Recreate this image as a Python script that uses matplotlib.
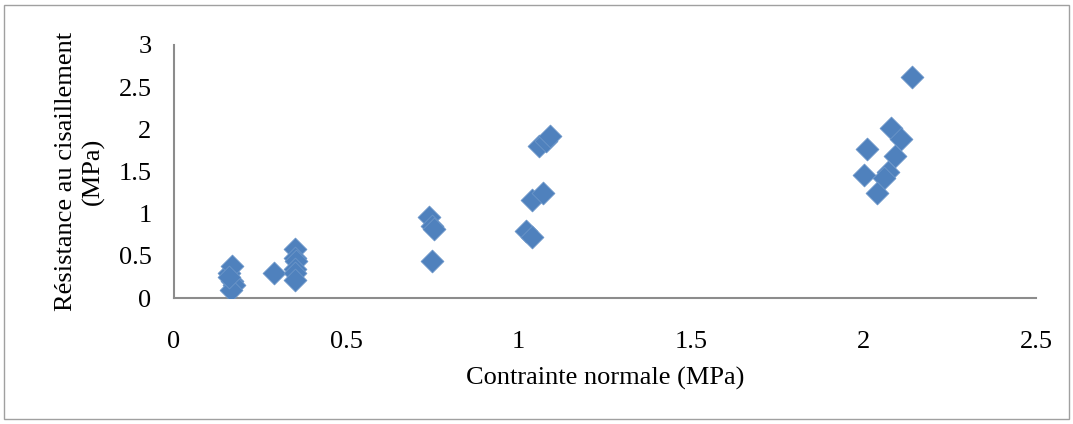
import matplotlib.pyplot as plt
from matplotlib.patches import Rectangle

# contrainte normale (MPa) / resistance au cisaillement (MPa)
normal_stress = [0.16, 0.17, 0.17, 0.175, 0.165, 0.16,
                 0.29, 0.35, 0.35, 0.355, 0.35, 0.35, 0.35,
                 0.74, 0.75, 0.755, 0.75,
                 1.02, 1.04, 1.04, 1.07, 1.06, 1.08, 1.09,
                 2.14, 2.08, 2.11, 2.01, 2.09, 2.0, 2.07, 2.06, 2.04]
shear_strength = [0.30, 0.38, 0.20, 0.16, 0.10, 0.25,
                  0.30, 0.58, 0.47, 0.44, 0.35, 0.30, 0.22,
                  0.96, 0.85, 0.82, 0.44,
                  0.79, 0.72, 1.16, 1.24, 1.80, 1.86, 1.92,
                  2.62, 2.02, 1.89, 1.77, 1.68, 1.46, 1.50, 1.42, 1.24]

x_ticks = [0, 0.5, 1, 1.5, 2, 2.5]
y_ticks = [0, 0.5, 1, 1.5, 2, 2.5, 3]

plt.rcParams['font.family'] = ['Liberation Serif', 'DejaVu Serif']
fs = 19

fig = plt.figure(figsize=(10.73, 4.24), dpi=100)
ax = fig.add_axes([0.162, 0.297, 0.8035, 0.597])

ax.scatter(normal_stress, shear_strength, marker='D', s=135, color='#4F81BD',
           edgecolors='#6B95C8', linewidths=0.6, zorder=3)

ax.set_xlim(0, 2.5)
ax.set_ylim(0, 3)
ax.set_xticks(x_ticks)
ax.set_yticks(y_ticks)
ax.set_xticklabels([f'{t:g}' for t in x_ticks], fontsize=fs)
ax.set_yticklabels([f'{t:g}' for t in y_ticks], fontsize=fs)
ax.tick_params(length=0)
ax.tick_params(axis='y', pad=16)
ax.tick_params(axis='x', pad=24)

for side in ['top', 'right']:
    ax.spines[side].set_visible(False)
for side in ['left', 'bottom']:
    ax.spines[side].set_color('#8C8C8C')
    ax.spines[side].set_linewidth(1.5)

ax.set_xlabel('Contrainte normale (MPa)', fontsize=fs, labelpad=10)
ax.set_ylabel('Résistance au cisaillement\n(MPa)', fontsize=fs, labelpad=10,
              linespacing=1.25)

fig.patches.append(Rectangle((0.004, 0.012), 0.992, 0.976, transform=fig.transFigure,
                             fill=False, edgecolor='#A0A0A0', linewidth=1.0))

fig.savefig('out.png', dpi=100)
